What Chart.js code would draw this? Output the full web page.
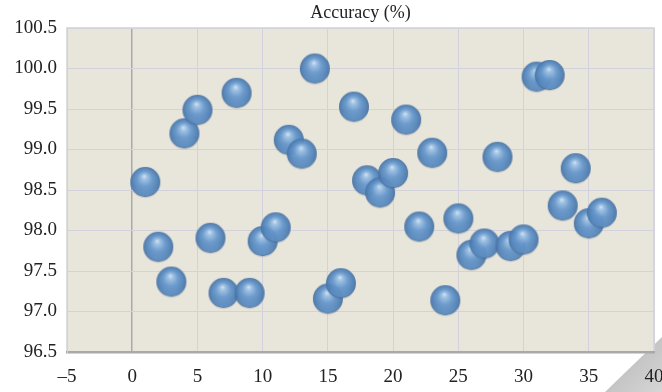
<!DOCTYPE html>
<html>
<head>
<meta charset="utf-8">
<script src="https://cdn.jsdelivr.net/npm/chart.js@4/dist/chart.umd.min.js"></script>
<style>
  html, body { margin: 0; padding: 0; background: #fff; }
  .chart-box { width: 662px; height: 392px; position: relative; }
</style>
</head>
<body>
<div class="chart-box"><canvas class="accuracy-chart"></canvas></div>
<script>
const trials = [1, 2, 3, 4, 5, 6, 7, 8, 9, 10, 11, 12, 13, 14, 15, 16, 17, 18,
                19, 20, 21, 22, 23, 24, 25, 26, 27, 28, 29, 30, 31, 32, 33, 34, 35, 36];
const accuracy = [98.60, 97.80, 97.37, 99.20, 99.49, 97.91, 97.23, 99.70, 97.23, 97.87,
                  98.04, 99.12, 98.95, 100.00, 97.16, 97.35, 99.53, 98.62, 98.47, 98.71,
                  99.37, 98.05, 98.96, 97.14, 98.15, 97.70, 97.84, 98.91, 97.81, 97.89,
                  99.90, 99.92, 98.31, 98.77, 98.09, 98.22];
const xRange = [-5, 40];
const yRange = [96.5, 100.5];
const titleText = 'Accuracy (%)';

const serif = "'Liberation Serif', 'DejaVu Serif', serif";

// shaded ball used as the point marker
function makeSphere(r) {
    const size = r * 2 + 4;
    const c = document.createElement('canvas');
    c.width = size;
    c.height = size;
    const g = c.getContext('2d');
    const cx = size / 2, cy = size / 2;

    g.beginPath();
    g.arc(cx, cy + 1.2, r, 0, Math.PI * 2);
    g.fillStyle = 'rgba(70, 90, 120, 0.18)';
    g.fill();

    const grad = g.createRadialGradient(cx - 1, cy - r * 0.4, 0, cx, cy, r);
    grad.addColorStop(0, '#d4e6f6');
    grad.addColorStop(0.18, '#9cc0e4');
    grad.addColorStop(0.5, '#6798cd');
    grad.addColorStop(0.85, '#5080b5');
    grad.addColorStop(1, '#4872a2');
    g.globalAlpha = 0.94;
    g.beginPath();
    g.arc(cx, cy, r, 0, Math.PI * 2);
    g.fillStyle = grad;
    g.fill();

    // soft rim light at the bottom
    const rim = g.createLinearGradient(0, cy + r * 0.3, 0, cy + r);
    rim.addColorStop(0, 'rgba(130,180,225,0)');
    rim.addColorStop(1, 'rgba(130,180,225,0.4)');
    g.beginPath();
    g.arc(cx, cy, r - 1, 0, Math.PI * 2);
    g.fillStyle = rim;
    g.fill();
    return c;
}

const plotFrame = {
    id: 'plotFrame',
    beforeDraw(chart) {
        const { ctx, chartArea: a, width, height } = chart;
        ctx.save();
        // folded corner
        const grad = ctx.createLinearGradient(width - 40, height - 40, width, height);
        grad.addColorStop(0, '#bdbdbd');
        grad.addColorStop(1, '#d6d6d6');
        ctx.beginPath();
        ctx.moveTo(width - 57, height);
        ctx.lineTo(width, height - 55);
        ctx.lineTo(width, height);
        ctx.closePath();
        ctx.fillStyle = grad;
        ctx.fill();

        ctx.fillStyle = '#e8e5da';
        ctx.fillRect(a.left, a.top, a.right - a.left, a.bottom - a.top);
        ctx.strokeStyle = '#d2d2d2';
        ctx.lineWidth = 1.5;
        ctx.strokeRect(a.left, a.top, a.right - a.left, a.bottom - a.top);
        ctx.restore();
    },
    afterDraw(chart) {
        const { ctx, chartArea: a } = chart;
        ctx.save();
        ctx.font = '18px ' + serif;
        ctx.fillStyle = '#222';
        ctx.textAlign = 'center';
        ctx.textBaseline = 'middle';
        ctx.fillText(titleText, (a.left + a.right) / 2, 13);
        ctx.restore();
    }
};

let accuracyChart;

document.addEventListener('DOMContentLoaded', () => {
    accuracyChart = createChart();
});

function createChart() {
    const ctx = document.querySelector('.accuracy-chart').getContext('2d');
    const sphere = makeSphere(15);
    return new Chart(ctx, {
        type: 'scatter',
        data: {
            datasets: [{
                label: titleText,
                data: trials.map((t, i) => ({ x: t, y: accuracy[i] })),
                pointStyle: sphere,
                pointRadius: 15,
                pointHoverRadius: 15,
            }]
        },
        options: {
            responsive: true,
            maintainAspectRatio: false,
            animation: false,
            events: [],
            layout: {
                autoPadding: false,
                padding: { top: 28, right: 8, left: 0, bottom: 0 },
            },
            plugins: {
                legend: { display: false },
                title: { display: false },
                tooltip: { enabled: false },
            },
            scales: {
                x: {
                    type: 'linear',
                    min: xRange[0],
                    max: xRange[1],
                    ticks: {
                        stepSize: 5,
                        padding: 14,
                        color: '#222',
                        font: { family: serif, size: 19 },
                        callback: v => String(v).replace('-', '\u2013'),
                    },
                    grid: {
                        drawTicks: false,
                        color: c => c.tick && c.tick.value === 0 ? '#a8a9ae' : '#d3d2dc',
                        lineWidth: c => c.tick && c.tick.value === 0 ? 1.5 : 1,
                    },
                    border: { color: '#a9a9a9', width: 2.5 },
                    afterFit: scale => {
                        scale.height = 40;
                        scale.paddingLeft = 0;
                        scale.paddingRight = 0;
                    },
                },
                y: {
                    min: yRange[0],
                    max: yRange[1],
                    ticks: {
                        stepSize: 0.5,
                        padding: 10,
                        color: '#222',
                        font: { family: serif, size: 19 },
                        callback: v => Number(v).toFixed(1),
                    },
                    grid: { drawTicks: false, color: '#d3d2dc' },
                    border: { color: '#d2d2d2', width: 1 },
                    afterFit: scale => {
                        scale.width = 67;
                        scale.paddingTop = 0;
                        scale.paddingBottom = 0;
                    },
                },
            },
        },
        plugins: [plotFrame],
    });
}
</script>
</body>
</html>
